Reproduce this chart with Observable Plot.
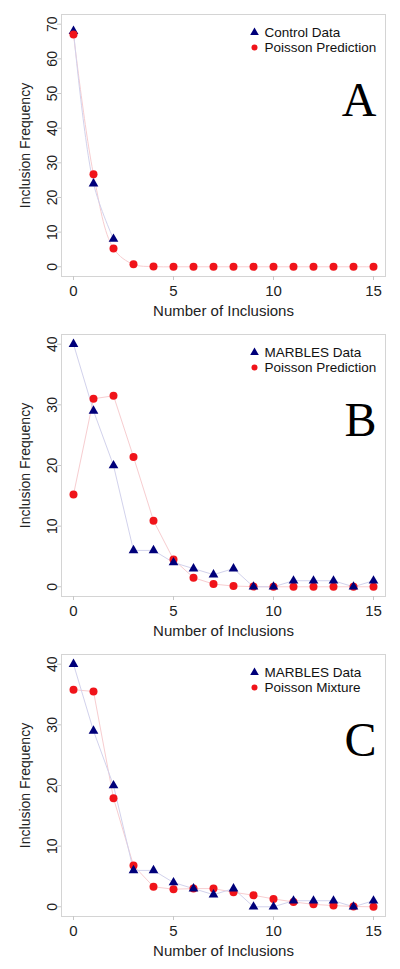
<!DOCTYPE html>
<html><head><meta charset="utf-8">
<script src="https://cdn.jsdelivr.net/npm/d3@7"></script>
<script src="https://cdn.jsdelivr.net/npm/@observablehq/plot@0.6"></script>
<style>html,body{margin:0;padding:0;background:#fff} svg{display:block}</style>
</head><body><div id="c"></div>
<script>
const inclusions = [0,1,2,3,4,5,6,7,8,9,10,11,12,13,14,15];
const xTicks = [0,5,10,15];
// control counts beyond 2 inclusions are not drawn in the reference (hidden)
const controlData = [68,24,8,null,null,null,null,null,null,null,null,null,null,null,null,null];
const poissonA = [67,26.7,5.3,0.7,0.05,0,0,0,0,0,0,0,0,0,0,0];
const marblesData = [40,29,20,6,6,4,3,2,3,0,0,1,1,1,0,1];
const poissonB = [15.2,31.0,31.5,21.4,10.9,4.5,1.5,0.45,0.12,0.03,0,0,0,0,0,0];
const mixtureC = [35.8,35.5,17.9,6.8,3.3,2.9,3.0,3.0,2.4,1.9,1.3,0.8,0.4,0.2,0.05,0];
const yTicksA = [0,10,20,30,40,50,60,70];
const yTicksBC = [0,10,20,30,40];

const NAVY = "#00007a", RED = "#f0141a";

function panel({ydomain, yticks, s1, s2, label1, label2, letter, curve, redOnTop}) {
  const d1 = inclusions.map((x, i) => ({x, y: s1[i]}));
  const d2 = inclusions.map((x, i) => ({x, y: s2[i]}));
  const dots1 = Plot.dot(d1, {x: "x", y: "y", r: 3.6, symbol: "triangle", fill: NAVY});
  const dots2 = Plot.dot(d2, {x: "x", y: "y", r: 4, fill: RED});
  return Plot.plot({
    width: 400, height: 320,
    marginLeft: 61, marginRight: 15, marginTop: 14, marginBottom: 44,
    x: {domain: [-0.6, 15.6]},
    y: {domain: ydomain},
    style: {fontFamily: "'Liberation Sans', Arial, sans-serif", color: "#222", background: "#fff"},
    marks: [
      Plot.frame({stroke: "#d4d4d4"}),
      Plot.axisX({ticks: xTicks, tickSize: 4, tickPadding: 5, fontSize: 15, stroke: "#c8c8c8",
        label: "Number of Inclusions", labelAnchor: "center", labelArrow: "none", labelOffset: 39}),
      Plot.axisY({ticks: yticks, tickSize: 4, tickPadding: 1, tickRotate: -90, fontSize: 14, stroke: "#c8c8c8",
        label: "Inclusion Frequency", labelAnchor: "center", labelArrow: "none", labelOffset: 41}),
      Plot.line(d2, {x: "x", y: "y", stroke: "#f7cdd0", strokeWidth: 1, curve}),
      Plot.line(d1, {x: "x", y: "y", stroke: "#d2d2ec", strokeWidth: 1, curve}),
      ...(redOnTop ? [dots1, dots2] : [dots2, dots1]),
      // legend
      Plot.dot([label1], {frameAnchor: "top-right", dx: -131, dy: 18, r: 3.2, symbol: "triangle", fill: NAVY}),
      Plot.dot([label2], {frameAnchor: "top-right", dx: -131, dy: 33, r: 3, fill: RED}),
      Plot.text([label1], {text: d => d, frameAnchor: "top-right", lineAnchor: "middle", textAnchor: "start",
        dx: -121, dy: 18, fontSize: 13.5, fill: "#111"}),
      Plot.text([label2], {text: d => d, frameAnchor: "top-right", lineAnchor: "middle", textAnchor: "start",
        dx: -121, dy: 33, fontSize: 13.5, fill: "#111"}),
      Plot.text([letter], {text: d => d, frameAnchor: "top-right", lineAnchor: "top", textAnchor: "end",
        dx: -9, dy: 67, fontSize: 48, fontFamily: "'Liberation Serif', 'Times New Roman', serif", fill: "#000"})
    ]
  });
}

const c = document.getElementById("c");
c.append(panel({ydomain: [-2.8, 72.8], yticks: yTicksA, s1: controlData, s2: poissonA,
  label1: "Control Data", label2: "Poisson Prediction", letter: "A", curve: "catmull-rom", redOnTop: true}));
c.append(panel({ydomain: [-1.6, 41.6], yticks: yTicksBC, s1: marblesData, s2: poissonB,
  label1: "MARBLES Data", label2: "Poisson Prediction", letter: "B", curve: "linear", redOnTop: false}));
c.append(panel({ydomain: [-1.6, 41.6], yticks: yTicksBC, s1: marblesData, s2: mixtureC,
  label1: "MARBLES Data", label2: "Poisson Mixture", letter: "C", curve: "linear", redOnTop: false}));
</script>
</body></html>
